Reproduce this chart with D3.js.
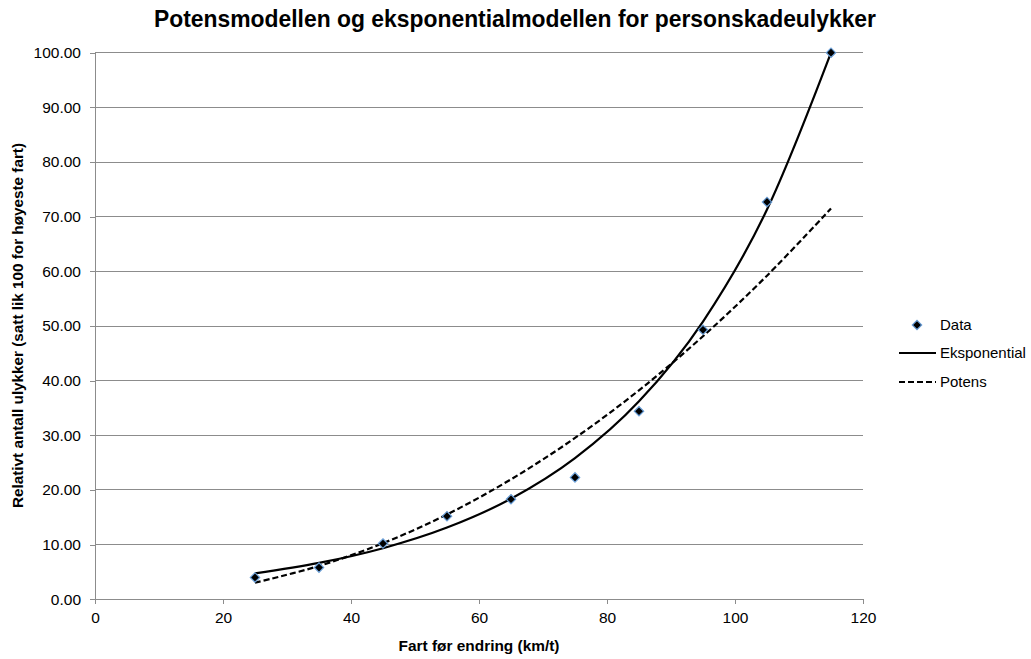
<!DOCTYPE html>
<html>
<head>
<meta charset="utf-8">
<script src="https://cdn.jsdelivr.net/npm/d3@7"></script>
<style>
  html, body { margin: 0; padding: 0; background: #fff; }
  svg { display: block; }
  text { font-family: "Liberation Sans", Arial, sans-serif; fill: #000; }
</style>
</head>
<body>
<svg id="chart" width="1031" height="659"></svg>
<script>
// ---- Data ----
const speeds = [25, 35, 45, 55, 65, 75, 85, 95, 105, 115];
const accidents = [4.0, 5.8, 10.2, 15.2, 18.3, 22.3, 34.4, 49.3, 72.7, 100.0];
const expModel = [4.75, 6.66, 9.35, 13.12, 18.40, 25.82, 36.22, 50.82, 71.30, 100.0];
const powModel = [3.04, 6.10, 10.26, 15.53, 21.95, 29.52, 38.24, 48.13, 59.21, 71.5];
const xTicks = [0, 20, 40, 60, 80, 100, 120];
const yTicks = [0, 10, 20, 30, 40, 50, 60, 70, 80, 90, 100];
const seriesNames = ["Data", "Eksponential", "Potens"];
const titleText = "Potensmodellen og eksponentialmodellen for personskadeulykker";
const xTitle = "Fart før endring (km/t)";
const yTitle = "Relativt antall ulykker (satt lik 100 for høyeste fart)";

// ---- Layout ----
const svg = d3.select("#chart");
const m = { left: 95, right: 863, top: 52.7, bottom: 599.3 };
const x = d3.scaleLinear().domain([0, 120]).range([m.left, m.right]);
const y = d3.scaleLinear().domain([0, 100]).range([m.bottom, m.top]);
const gridColor = "#8c8c8c";

// gridlines
svg.append("g").selectAll("line").data(yTicks.filter(d => d > 0)).join("line")
  .attr("x1", m.left).attr("x2", m.right)
  .attr("y1", d => y(d)).attr("y2", d => y(d))
  .attr("stroke", gridColor).attr("stroke-width", 1).attr("shape-rendering", "crispEdges");

// axes
const yAxis = svg.append("g").attr("transform", `translate(${m.left},0)`)
  .call(d3.axisLeft(y).tickValues(yTicks).tickFormat(d3.format(".2f")).tickSize(5).tickPadding(9));
const xAxis = svg.append("g").attr("transform", `translate(0,${m.bottom})`)
  .call(d3.axisBottom(x).tickValues(xTicks).tickFormat(d3.format("d")).tickSize(5).tickPadding(8));
[yAxis, xAxis].forEach(g => {
  g.select(".domain").attr("stroke", gridColor).attr("shape-rendering", "crispEdges");
  g.selectAll(".tick line").attr("stroke", gridColor).attr("shape-rendering", "crispEdges");
  g.selectAll(".tick text").attr("font-family", "Liberation Sans, Arial, sans-serif")
    .attr("font-size", 15.5).attr("fill", "#000");
});

// model curves (smoothed lines through the model points)
const line = d3.line().x(d => x(d[0])).y(d => y(d[1])).curve(d3.curveCatmullRom.alpha(0));
svg.append("path").datum(speeds.map((s, i) => [s, expModel[i]]))
  .attr("d", line).attr("fill", "none").attr("stroke", "#000").attr("stroke-width", 2.2);
svg.append("path").datum(speeds.map((s, i) => [s, powModel[i]]))
  .attr("d", line).attr("fill", "none").attr("stroke", "#000").attr("stroke-width", 2.2)
  .attr("stroke-dasharray", "6,3");

// markers
const diamond = d3.symbol().type(d3.symbolSquare).size(44);
svg.append("g").selectAll("path").data(speeds.map((s, i) => [s, accidents[i]])).join("path")
  .attr("d", diamond)
  .attr("transform", d => `translate(${x(d[0])},${y(d[1])}) rotate(45)`)
  .attr("fill", "#000").attr("stroke", "#6a9fd8").attr("stroke-width", 1.2);

// title
svg.append("text").attr("x", 515).attr("y", 27).attr("text-anchor", "middle")
  .attr("font-family", "Liberation Sans Narrow, Liberation Sans, sans-serif")
  .attr("font-weight", "bold").attr("font-size", 24)
  .attr("textLength", 722).attr("lengthAdjust", "spacingAndGlyphs")
  .text(titleText);

// x title
svg.append("text").attr("x", (m.left + m.right) / 2).attr("y", 651).attr("text-anchor", "middle")
  .attr("font-family", "Liberation Sans Narrow, Liberation Sans, sans-serif")
  .attr("font-weight", "bold").attr("font-size", 15)
  .attr("textLength", 161).attr("lengthAdjust", "spacingAndGlyphs")
  .text(xTitle);

// y title
svg.append("text").attr("transform", `translate(23,${(143 + 508) / 2}) rotate(-90)`)
  .attr("text-anchor", "middle")
  .attr("font-family", "Liberation Sans Narrow, Liberation Sans, sans-serif")
  .attr("font-weight", "bold").attr("font-size", 15)
  .attr("textLength", 365).attr("lengthAdjust", "spacingAndGlyphs")
  .text(yTitle);

// legend
const lg = svg.append("g");
const ly = [325, 353, 382];
lg.append("path").attr("d", diamond)
  .attr("transform", `translate(917,${ly[0]}) rotate(45)`)
  .attr("fill", "#000").attr("stroke", "#6a9fd8").attr("stroke-width", 1.2);
lg.append("line").attr("x1", 899).attr("x2", 936).attr("y1", ly[1]).attr("y2", ly[1])
  .attr("stroke", "#000").attr("stroke-width", 2.2);
lg.append("line").attr("x1", 899).attr("x2", 936).attr("y1", ly[2]).attr("y2", ly[2])
  .attr("stroke", "#000").attr("stroke-width", 2.2).attr("stroke-dasharray", "6,3");
lg.selectAll("text").data(seriesNames).join("text")
  .attr("x", 940).attr("y", (d, i) => ly[i]).attr("dy", "0.36em")
  .attr("font-size", 15).text(d => d);
</script>
</body>
</html>
